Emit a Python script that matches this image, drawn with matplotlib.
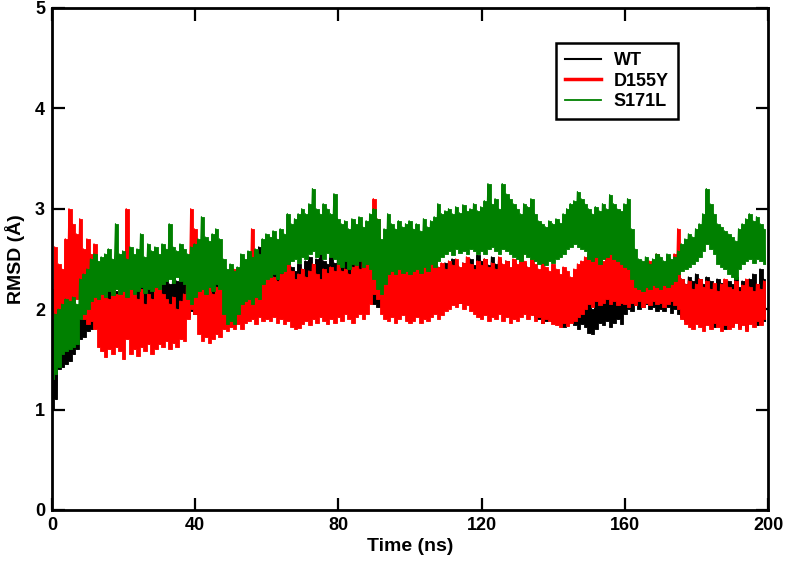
import numpy as np
import matplotlib
matplotlib.use("Agg")
import matplotlib.pyplot as plt
from matplotlib.lines import Line2D

plt.rcParams['font.family'] = ['Liberation Sans', 'DejaVu Sans']
plt.rcParams['font.weight'] = 'bold'

# time (ns) at 1-ns steps; each step holds the upper and lower excursion of the trace
time_ns = np.arange(200)

WT_hi = [
1.30, 1.50, 1.68, 1.72, 1.70, 1.78, 1.80, 1.88, 1.95, 2.00,
2.10, 2.05, 2.18, 2.22, 2.15, 2.25, 2.20, 2.28, 2.18, 2.24,
2.30, 2.22, 2.35, 2.28, 2.40, 2.30, 2.26, 2.32, 2.45, 2.30,
2.28, 2.35, 2.30, 2.25, 2.32, 2.28, 2.38, 2.30, 2.25, 2.33,
2.30, 2.36, 2.28, 2.40, 2.32, 2.30, 2.25, 2.35, 2.30, 2.38,
2.32, 2.28, 2.35, 2.40, 2.30, 2.36, 2.42, 2.50, 2.62, 2.45,
2.40, 2.35, 2.42, 2.38, 2.45, 2.40, 2.50, 2.42, 2.38, 2.45,
2.40, 2.48, 2.52, 2.45, 2.50, 2.55, 2.48, 2.45, 2.52, 2.46,
2.50, 2.55, 2.48, 2.52, 2.45, 2.50, 2.56, 2.52, 2.62, 2.50,
2.45, 2.40, 2.44, 2.40, 2.36, 2.42, 2.46, 2.40, 2.42, 2.38,
2.40, 2.44, 2.38, 2.42, 2.48, 2.40, 2.44, 2.50, 2.42, 2.40,
2.46, 2.42, 2.50, 2.44, 2.40, 2.46, 2.42, 2.50, 2.44, 2.54,
2.48, 2.50, 2.44, 2.52, 2.45, 2.50, 2.44, 2.48, 2.40, 2.46,
2.44, 2.40, 2.46, 2.38, 2.35, 2.30, 2.25, 2.20, 2.18, 2.22,
2.15, 2.20, 2.18, 2.12, 2.15, 2.22, 2.18, 2.10, 2.15, 2.08,
2.05, 2.00, 2.10, 2.18, 2.15, 2.20, 2.12, 2.18, 2.22, 2.15,
2.25, 2.30, 2.28, 2.35, 2.30, 2.32, 2.38, 2.30, 2.35, 2.28,
2.32, 2.30, 2.36, 2.28, 2.35, 2.38, 2.30, 2.25, 2.32, 2.28,
2.35, 2.30, 2.25, 2.32, 2.28, 2.22, 2.30, 2.26, 2.20, 2.28,
2.25, 2.32, 2.22, 2.28, 2.20, 2.30, 2.35, 2.25, 2.40, 2.30]
WT_lo = [
1.00, 1.10, 1.40, 1.42, 1.45, 1.48, 1.55, 1.60, 1.70, 1.72,
1.78, 1.80, 1.85, 1.82, 1.88, 1.85, 1.90, 1.86, 1.92, 1.88,
1.90, 1.88, 1.94, 1.90, 1.95, 1.92, 1.88, 1.95, 1.92, 1.96,
1.95, 1.92, 1.98, 1.94, 1.96, 1.92, 1.98, 1.95, 1.92, 1.98,
1.95, 2.00, 1.96, 1.98, 2.02, 1.96, 1.94, 2.00, 1.96, 2.02,
1.98, 1.95, 2.00, 2.04, 1.98, 2.02, 2.05, 2.00, 2.10, 2.05,
2.02, 2.00, 2.05, 2.02, 2.08, 2.04, 2.10, 2.05, 2.02, 2.08,
2.05, 2.10, 2.08, 2.12, 2.06, 2.15, 2.10, 2.05, 2.12, 2.08,
2.10, 2.15, 2.08, 2.12, 2.05, 2.10, 2.15, 2.10, 2.18, 2.12,
2.05, 2.02, 2.08, 2.04, 2.00, 2.06, 2.10, 2.04, 2.08, 2.02,
2.05, 2.10, 2.04, 2.08, 2.12, 2.06, 2.10, 2.14, 2.08, 2.06,
2.12, 2.08, 2.14, 2.10, 2.06, 2.12, 2.08, 2.15, 2.10, 2.16,
2.12, 2.15, 2.08, 2.14, 2.10, 2.12, 2.06, 2.10, 2.04, 2.08,
2.06, 2.02, 2.05, 1.98, 1.95, 1.92, 1.90, 1.86, 1.88, 1.92,
1.88, 1.92, 1.85, 1.82, 1.86, 1.90, 1.84, 1.80, 1.85, 1.82,
1.76, 1.75, 1.80, 1.86, 1.84, 1.88, 1.82, 1.86, 1.90, 1.85,
1.95, 2.00, 1.98, 2.04, 2.00, 2.02, 2.05, 2.00, 2.02, 1.98,
2.00, 1.98, 2.02, 1.96, 2.00, 1.95, 1.92, 1.88, 1.92, 1.86,
1.90, 1.88, 1.84, 1.90, 1.86, 1.82, 1.88, 1.85, 1.80, 1.86,
1.84, 1.88, 1.82, 1.86, 1.80, 1.86, 1.90, 1.84, 1.92, 1.88]

D155Y_hi = [
2.20, 2.62, 2.45, 2.40, 2.70, 3.00, 2.85, 2.75, 2.90, 2.60,
2.70, 2.55, 2.65, 2.30, 2.20, 2.35, 2.10, 2.25, 2.15, 2.30,
2.40, 3.00, 2.20, 2.15, 2.10, 2.20, 2.05, 2.15, 2.10, 2.22,
2.35, 2.15, 2.10, 2.05, 2.12, 2.00, 2.08, 2.15, 2.50, 3.00,
2.80, 2.40, 2.25, 2.20, 2.28, 2.15, 2.22, 2.30, 2.35, 2.25,
2.30, 2.40, 2.32, 2.28, 2.45, 2.55, 2.80, 2.50, 2.40, 2.35,
2.30, 2.38, 2.32, 2.28, 2.35, 2.40, 2.45, 2.38, 2.30, 2.35,
2.40, 2.32, 2.38, 2.45, 2.35, 2.30, 2.40, 2.36, 2.42, 2.38,
2.45, 2.38, 2.40, 2.35, 2.42, 2.48, 2.40, 2.55, 2.50, 2.70,
3.10, 2.90, 2.60, 2.50, 2.55, 2.45, 2.50, 2.58, 2.48, 2.52,
2.45, 2.40, 2.50, 2.42, 2.48, 2.38, 2.45, 2.50, 2.42, 2.46,
2.40, 2.48, 2.44, 2.50, 2.42, 2.46, 2.52, 2.45, 2.40, 2.48,
2.44, 2.50, 2.42, 2.46, 2.40, 2.52, 2.45, 2.48, 2.42, 2.50,
2.45, 2.55, 2.48, 2.42, 2.50, 2.45, 2.40, 2.48, 2.42, 2.38,
2.45, 2.40, 2.35, 2.42, 2.38, 2.32, 2.40, 2.45, 2.48, 2.52,
2.55, 2.50, 2.58, 2.52, 2.48, 2.55, 2.60, 2.50, 2.55, 2.48,
2.52, 2.45, 2.40, 2.45, 2.38, 2.42, 2.35, 2.48, 2.40, 2.55,
2.45, 2.40, 2.50, 2.42, 2.55, 2.80, 2.30, 2.25, 2.28, 2.20,
2.25, 2.30, 2.22, 2.28, 2.20, 2.26, 2.18, 2.25, 2.30, 2.22,
2.20, 2.28, 2.18, 2.24, 2.30, 2.22, 2.18, 2.25, 2.20, 2.28]
D155Y_lo = [
1.45, 1.60, 1.70, 1.80, 2.00, 2.05, 2.00, 2.10, 1.95, 1.90,
1.85, 1.88, 1.80, 1.62, 1.58, 1.52, 1.60, 1.55, 1.62, 1.58,
1.50, 1.70, 1.55, 1.60, 1.53, 1.62, 1.58, 1.65, 1.55, 1.60,
1.65, 1.62, 1.68, 1.60, 1.66, 1.62, 1.70, 1.68, 1.90, 2.00,
1.95, 1.75, 1.68, 1.72, 1.66, 1.70, 1.75, 1.72, 1.80, 1.78,
1.82, 1.80, 1.85, 1.80, 1.86, 1.88, 1.90, 1.85, 1.92, 1.88,
1.90, 1.88, 1.92, 1.86, 1.90, 1.85, 1.88, 1.82, 1.80, 1.81,
1.85, 1.88, 1.84, 1.90, 1.86, 1.92, 1.88, 1.85, 1.90, 1.86,
1.92, 1.88, 1.95, 1.90, 1.86, 1.92, 1.95, 1.90, 1.95, 2.05,
2.15, 2.10, 1.95, 1.90, 1.88, 1.92, 1.86, 1.90, 1.94, 1.88,
1.86, 1.88, 1.92, 1.86, 1.90, 1.88, 1.92, 1.95, 1.90, 1.94,
1.98, 2.00, 2.04, 2.02, 2.06, 2.00, 2.04, 1.98, 1.95, 1.92,
1.90, 1.94, 1.88, 1.92, 1.90, 1.95, 1.88, 1.92, 1.86, 1.90,
1.88, 1.92, 1.95, 1.90, 1.94, 1.88, 1.92, 1.86, 1.90, 1.88,
1.85, 1.84, 1.82, 1.86, 1.83, 1.86, 1.88, 1.92, 1.95, 2.00,
2.05, 2.02, 2.08, 2.04, 2.06, 2.10, 2.05, 2.08, 2.04, 2.06,
2.05, 2.02, 2.06, 2.04, 2.08, 2.02, 2.06, 2.04, 2.08, 2.05,
2.06, 2.02, 2.05, 2.08, 2.04, 2.00, 1.90, 1.85, 1.82, 1.80,
1.85, 1.82, 1.78, 1.84, 1.80, 1.86, 1.82, 1.78, 1.84, 1.80,
1.82, 1.86, 1.80, 1.84, 1.78, 1.85, 1.82, 1.88, 1.84, 1.90]

S171L_hi = [
1.90, 1.95, 2.00, 2.05, 2.10, 2.08, 2.12, 2.05, 2.30, 2.35,
2.40, 2.50, 2.55, 2.48, 2.52, 2.55, 2.60, 2.50, 2.85, 2.55,
2.58, 2.50, 2.62, 2.55, 2.60, 2.75, 2.52, 2.65, 2.58, 2.62,
2.55, 2.65, 2.60, 2.85, 2.62, 2.58, 2.65, 2.60, 2.55, 2.62,
2.65, 2.70, 2.92, 2.72, 2.68, 2.75, 2.80, 2.70, 2.50, 2.40,
2.45, 2.38, 2.42, 2.55, 2.50, 2.58, 2.52, 2.60, 2.55, 2.70,
2.75, 2.72, 2.78, 2.70, 2.80, 2.75, 2.95, 2.85, 2.90, 2.95,
3.00, 2.95, 3.05, 3.20, 3.00, 2.95, 3.05, 3.00, 2.95, 3.15,
2.90, 2.85, 2.88, 2.80, 2.90, 2.85, 2.92, 2.82, 2.88, 2.95,
3.00, 2.90, 2.70, 2.80, 2.95, 2.85, 2.80, 2.88, 2.82, 2.85,
2.88, 2.80, 2.85, 2.78, 2.90, 2.82, 2.88, 2.92, 3.05, 2.95,
2.98, 3.00, 2.95, 3.02, 2.96, 3.04, 2.98, 3.00, 3.05, 2.98,
3.02, 3.08, 3.25, 3.05, 3.10, 3.00, 3.25, 3.15, 3.10, 3.05,
3.00, 2.95, 3.05, 3.02, 3.10, 2.95, 2.88, 2.85, 2.82, 2.88,
2.85, 2.90, 2.86, 2.95, 3.00, 3.05, 3.08, 3.17, 3.10, 3.05,
3.00, 2.95, 3.02, 2.98, 3.05, 3.00, 3.14, 3.05, 3.00, 2.98,
3.05, 3.10, 2.80, 2.60, 2.50, 2.48, 2.52, 2.45, 2.50, 2.55,
2.52, 2.48, 2.55, 2.50, 2.52, 2.58, 2.65, 2.70, 2.75, 2.72,
2.80, 2.85, 2.95, 3.20, 3.05, 2.95, 2.85, 2.82, 2.78, 2.75,
2.72, 2.68, 2.80, 2.85, 2.90, 2.95, 2.88, 2.92, 2.85, 2.80]
S171L_lo = [
1.30, 1.35, 1.42, 1.55, 1.58, 1.60, 1.62, 1.65, 1.90, 1.95,
2.00, 2.08, 2.12, 2.10, 2.15, 2.12, 2.18, 2.14, 2.20, 2.15,
2.18, 2.12, 2.20, 2.15, 2.18, 2.22, 2.16, 2.20, 2.18, 2.22,
2.20, 2.25, 2.28, 2.30, 2.26, 2.32, 2.28, 2.25, 2.10, 2.05,
2.12, 2.18, 2.20, 2.15, 2.22, 2.18, 2.25, 2.20, 1.95, 1.85,
1.88, 1.85, 1.95, 2.05, 2.08, 2.10, 2.05, 2.12, 2.10, 2.25,
2.30, 2.32, 2.35, 2.30, 2.36, 2.38, 2.45, 2.48, 2.50, 2.46,
2.52, 2.50, 2.55, 2.58, 2.52, 2.55, 2.50, 2.56, 2.52, 2.50,
2.45, 2.42, 2.48, 2.40, 2.45, 2.44, 2.48, 2.42, 2.45, 2.40,
2.30, 2.20, 2.15, 2.25, 2.35, 2.38, 2.35, 2.40, 2.36, 2.38,
2.35, 2.38, 2.40, 2.36, 2.42, 2.38, 2.45, 2.42, 2.48, 2.52,
2.55, 2.58, 2.54, 2.60, 2.56, 2.58, 2.55, 2.60, 2.58, 2.55,
2.58, 2.55, 2.60, 2.62, 2.58, 2.55, 2.60, 2.58, 2.55, 2.52,
2.50, 2.48, 2.55, 2.52, 2.50, 2.48, 2.45, 2.46, 2.44, 2.48,
2.46, 2.50, 2.52, 2.55, 2.60, 2.62, 2.65, 2.62, 2.60, 2.58,
2.50, 2.48, 2.52, 2.45, 2.50, 2.52, 2.55, 2.50, 2.48, 2.45,
2.42, 2.40, 2.30, 2.22, 2.20, 2.18, 2.22, 2.20, 2.24, 2.22,
2.20, 2.24, 2.22, 2.25, 2.28, 2.35, 2.38, 2.40, 2.42, 2.45,
2.48, 2.52, 2.58, 2.65, 2.60, 2.55, 2.45, 2.42, 2.40, 2.35,
2.32, 2.30, 2.40, 2.45, 2.48, 2.50, 2.46, 2.50, 2.48, 2.45]

series_names = ["WT", "D155Y", "S171L"]
series_colors = ["#000000", "#ff0000", "#008000"]
series_hi = [WT_hi, D155Y_hi, S171L_hi]
series_lo = [WT_lo, D155Y_lo, S171L_lo]

x_ticks = [0, 40, 80, 120, 160, 200]
y_ticks = [0, 1, 2, 3, 4, 5]

fig = plt.figure(figsize=(7.87, 5.61), dpi=100)
ax = fig.add_axes([0.066, 0.091, 0.910, 0.895])

for k, (name, col, hi, lo) in enumerate(zip(series_names, series_colors, series_hi, series_lo)):
    hi = np.asarray(hi)
    lo = np.asarray(lo)
    z = 2 + k
    # solid body of the fluctuating trace, drawn column by column
    ax.fill_between(time_ns, lo, hi, step='mid', color=col, lw=0.6,
                    edgecolor=col, zorder=z)
    # fine vertical excursions inside each 1-ns column
    t = np.column_stack([time_ns - 0.25, time_ns + 0.25]).ravel()
    v = np.column_stack([hi, lo]).ravel()
    ax.plot(t, v, color=col, lw=0.9, zorder=z + 0.5)

ax.set_xlim(0, 200)
ax.set_ylim(0, 5)
ax.set_xticks(x_ticks)
ax.set_yticks(y_ticks)
ax.tick_params(direction='in', length=9, width=1.6, labelsize=13,
               top=True, right=True, pad=5)
for lab in ax.get_xticklabels() + ax.get_yticklabels():
    lab.set_fontweight('bold')
for s in ax.spines.values():
    s.set_linewidth(2.0)
    s.set_zorder(6)

ax.set_xlabel("Time (ns)", fontsize=14, fontweight='bold', labelpad=3)
ax.set_ylabel("RMSD (Å)", fontsize=14, fontweight='bold', labelpad=7)

handles = [Line2D([], [], color=c, lw=w) for c, w in zip(series_colors, [1.5, 2.5, 1.3])]
leg = ax.legend(handles, series_names, loc='upper right', bbox_to_anchor=(0.874, 0.930),
                fancybox=False, framealpha=1, edgecolor='black',
                prop={'size': 13, 'weight': 'bold'}, handlelength=2.0,
                borderpad=0.5, labelspacing=0.2, handletextpad=0.7,
                borderaxespad=0)
leg.get_frame().set_linewidth(1.8)
leg.set_zorder(10)

fig.savefig("out.png", dpi=100)
